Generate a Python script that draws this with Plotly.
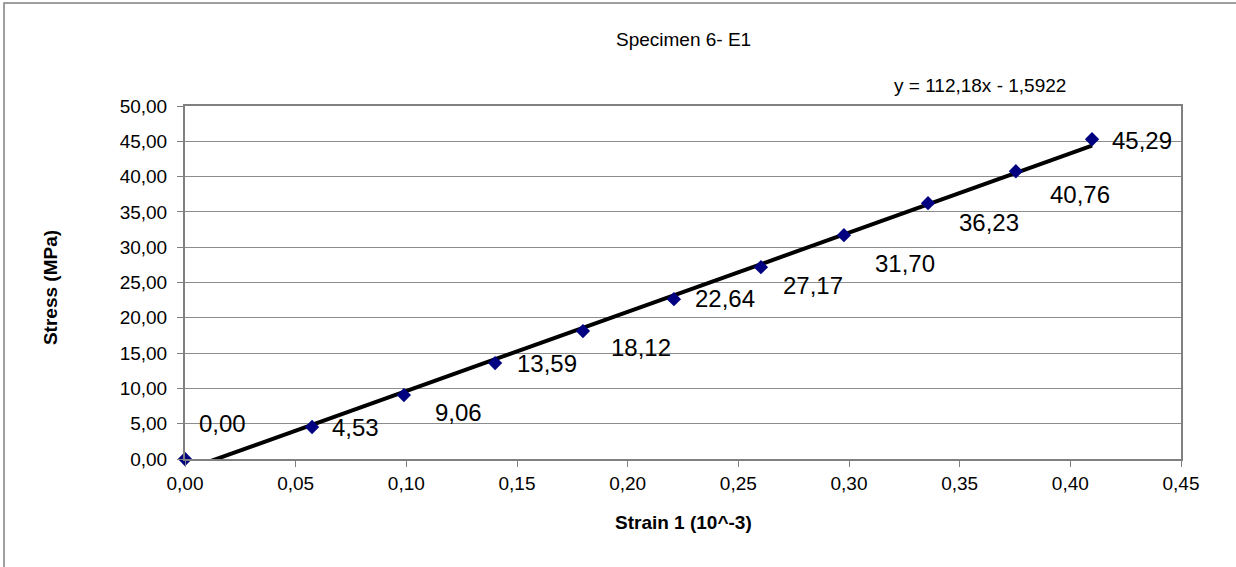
import plotly.graph_objects as go

# Measured strain (10^-3) and stress (MPa) for specimen 6, gauge E1
strain = [0.0, 0.0574, 0.0989, 0.1401, 0.1798, 0.2209, 0.2602, 0.2977, 0.3357, 0.3754, 0.4098]
stress = [0.00, 4.53, 9.06, 13.59, 18.12, 22.64, 27.17, 31.70, 36.23, 40.76, 45.29]

# Linear trendline coefficients (y = slope * x + intercept)
slope = 112.18
intercept = -1.5922

x_ticks = [0.0, 0.05, 0.10, 0.15, 0.20, 0.25, 0.30, 0.35, 0.40, 0.45]
y_ticks = [0, 5, 10, 15, 20, 25, 30, 35, 40, 45, 50]

# Pixel offsets of each value label relative to its point
label_dx = [37, 43, 55, 52, 58, 51, 52, 61, 61, 64, 50]
label_dy = [36, 0, -17, 0, -16, 1, -18, -28, -19, -23, -1]

FONT = "Liberation Sans, Arial, sans-serif"


def comma(v, nd=2):
    return f"{v:.{nd}f}".replace(".", ",")


fig = go.Figure()

# trendline across the measured strain range
x_line = [0.0, max(strain)]
y_line = [slope * x + intercept for x in x_line]
fig.add_trace(go.Scatter(
    x=x_line, y=y_line, mode="lines",
    line=dict(color="#000000", width=4),
    hoverinfo="skip", showlegend=False,
))

fig.add_trace(go.Scatter(
    x=strain, y=stress, mode="markers",
    marker=dict(symbol="diamond", size=11, color="#000080",
                line=dict(width=0)),
    cliponaxis=False, showlegend=False,
))

annotations = []
for x, y, dx, dy in zip(strain, stress, label_dx, label_dy):
    annotations.append(dict(
        x=x, y=y, xref="x", yref="y", text=comma(y),
        showarrow=False, xshift=dx, yshift=dy,
        xanchor="center", yanchor="middle",
        font=dict(family=FONT, size=24, color="#000000"),
    ))

annotations += [
    dict(text="Specimen 6- E1", x=0.5, y=1.187, xref="paper", yref="paper",
         showarrow=False, xanchor="center", yanchor="middle",
         font=dict(family=FONT, size=19, color="#000000")),
    dict(text="y = 112,18x - 1,5922", x=0.798, y=1.0567, xref="paper", yref="paper",
         showarrow=False, xanchor="center", yanchor="middle",
         font=dict(family=FONT, size=19, color="#000000")),
    dict(text="<b>Strain 1 (10^-3)</b>", x=0.5, y=-0.1785, xref="paper", yref="paper",
         showarrow=False, xanchor="center", yanchor="middle",
         font=dict(family=FONT, size=19, color="#000000")),
    dict(text="<b>Stress (MPa)</b>", x=-0.1355, y=0.4844, xref="paper", yref="paper",
         showarrow=False, textangle=-90, xanchor="center", yanchor="middle",
         font=dict(family=FONT, size=19, color="#000000")),
]

fig.update_layout(
    width=1236, height=567,
    margin=dict(l=185, r=55, t=106, b=108),
    paper_bgcolor="#ffffff", plot_bgcolor="#ffffff",
    showlegend=False,
    annotations=annotations,
    shapes=[dict(type="rect", xref="paper", yref="paper",
                 x0=-0.1817, x1=2.0, y0=-1.0, y1=1.2918,
                 line=dict(color="#808080", width=1.5), layer="below")],
    font=dict(family=FONT, size=19, color="#000000"),
)

fig.update_xaxes(
    range=[0, 0.45], tickvals=x_ticks, ticktext=[comma(v) for v in x_ticks],
    showgrid=False, zeroline=False,
    showline=True, linecolor="#808080", linewidth=2, mirror=True,
    ticks="outside", ticklen=6, tickcolor="#808080", tickwidth=1,
    tickfont=dict(family=FONT, size=19, color="#000000"),
)
fig.update_yaxes(
    range=[0, 50], tickvals=y_ticks, ticktext=[comma(v) for v in y_ticks],
    showgrid=True, gridcolor="#8c8c8c", gridwidth=1, zeroline=False,
    showline=True, linecolor="#808080", linewidth=2, mirror=True,
    ticks="outside", ticklen=6, tickcolor="#808080", tickwidth=1,
    ticklabelstandoff=6,
    tickfont=dict(family=FONT, size=19, color="#000000"),
)

fig.write_html("out.html")
